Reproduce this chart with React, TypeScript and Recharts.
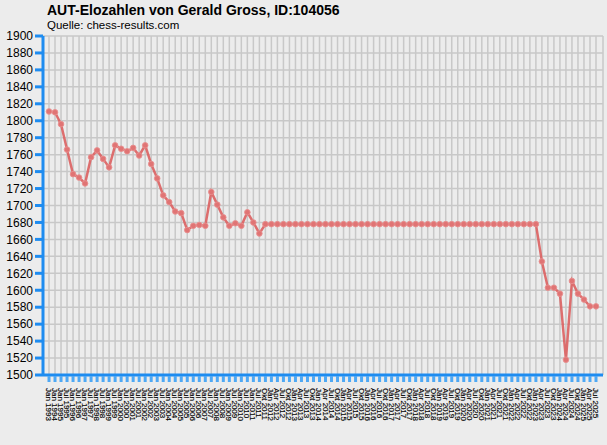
import React from "react";
import { CartesianGrid, Line, LineChart, XAxis, YAxis } from "recharts";

const LABELS = [
  "Jan 1993", "Jan 1994",
  "Jan 1995", "Jul 1995", "Jan 1996", "Jul 1996", "Jan 1997", "Jul 1997", "Jan 1998", "Jul 1998",
  "Jan 1999", "Jul 1999", "Jan 2000", "Jul 2000", "Jan 2001", "Jul 2001", "Jan 2002", "Jul 2002",
  "Jan 2003", "Jul 2003", "Jan 2004", "Jul 2004", "Jan 2005", "Jul 2005", "Jan 2006", "Jul 2006",
  "Jan 2007", "Jul 2007", "Jan 2008", "Jul 2008", "Jan 2009", "Jul 2009", "Jan 2010", "Jul 2010",
  "Jan 2011",
  "Jul 2011", "Okt 2011", "Jan 2012", "Apr 2012", "Jul 2012", "Okt 2012", "Jan 2013", "Apr 2013",
  "Jul 2013", "Okt 2013", "Jan 2014", "Apr 2014", "Jul 2014", "Okt 2014", "Jan 2015", "Apr 2015",
  "Jul 2015", "Okt 2015", "Jan 2016", "Apr 2016", "Jul 2016", "Okt 2016", "Jan 2017", "Apr 2017",
  "Jul 2017", "Okt 2017", "Jan 2018", "Apr 2018", "Jul 2018", "Okt 2018", "Jan 2019", "Apr 2019",
  "Jul 2019", "Okt 2019", "Jan 2020", "Apr 2020", "Jul 2020", "Okt 2020", "Jan 2021", "Apr 2021",
  "Jul 2021", "Okt 2021", "Jan 2022", "Apr 2022", "Jul 2022", "Okt 2022", "Jan 2023", "Apr 2023",
  "Jul 2023", "Okt 2023", "Jan 2024", "Apr 2024", "Jul 2024", "Okt 2024", "Jan 2025", "Apr 2025",
  "Jul 2025",
];

const ELO = [
  1811, 1810, 1796, 1766, 1737, 1733, 1726, 1757, 1765, 1755,
  1745, 1771, 1767, 1764, 1768, 1759, 1771, 1749, 1732, 1712,
  1704, 1693, 1691, 1671, 1676, 1677, 1676, 1716, 1701, 1686,
  1676, 1679, 1676, 1692, 1680, 1667,
  1678, 1678, 1678, 1678, 1678, 1678, 1678, 1678, 1678, 1678,
  1678, 1678, 1678, 1678, 1678, 1678, 1678, 1678, 1678, 1678,
  1678, 1678, 1678, 1678, 1678, 1678, 1678, 1678, 1678, 1678,
  1678, 1678, 1678, 1678, 1678, 1678, 1678, 1678, 1678, 1678,
  1678, 1678, 1678, 1678, 1678, 1678,
  1634, 1603, 1603, 1596, 1518, 1611, 1596, 1589, 1581, 1581,
];

const Y_TICKS = [
  1500, 1520, 1540, 1560, 1580, 1600, 1620, 1640, 1660, 1680, 1700,
  1720, 1740, 1760, 1780, 1800, 1820, 1840, 1860, 1880, 1900,
];

const data = LABELS.map((label, i) => ({ label, elo: ELO[i] }));

const FONT = "'Liberation Sans', Arial, sans-serif";
const BLUE = "#1e8cf0";

function XTick({ x, y, payload }: any) {
  return (
    <g transform={`translate(${x},${y})`}>
      <line x1={0} y1={-7} x2={0} y2={-1} stroke="#4ea8f4" strokeWidth={3} />
      <text
        transform="rotate(90)"
        x={5}
        y={3}
        fontSize={8}
        fontFamily={FONT}
        fill="#000"
        stroke="#000"
        strokeWidth={0.15}
        textAnchor="start"
      >
        {payload.value}
      </text>
    </g>
  );
}

export default function App() {
  document.body.style.margin = "0";
  return (
    <div
      style={{
        position: "relative",
        width: 607,
        height: 445,
        background: "#ececec",
        fontFamily: FONT,
      }}
    >
      <div style={{ position: "absolute", left: 47, top: 2, fontSize: 14, fontWeight: "bold" }}>
        AUT-Elozahlen von Gerald Gross, ID:104056
      </div>
      <div style={{ position: "absolute", left: 47, top: 19, fontSize: 11.5 }}>
        Quelle: chess-results.com
      </div>
      <LineChart
        width={607}
        height={445}
        data={data}
        margin={{ top: 36, right: 4, bottom: 0, left: 0 }}
      >
        <CartesianGrid stroke="#c8c8c8" strokeWidth={1.5} />
        <XAxis
          dataKey="label"
          interval={0}
          height={70}
          padding={{ left: 6, right: 7 }}
          axisLine={{ stroke: BLUE, strokeWidth: 3 }}
          tickLine={false}
          tick={<XTick />}
        />
        <YAxis
          domain={[1500, 1900]}
          ticks={Y_TICKS}
          interval={0}
          width={43}
          axisLine={{ stroke: BLUE, strokeWidth: 3 }}
          tickLine={{ stroke: BLUE, strokeWidth: 3 }}
          tickSize={8}
          tick={{ fontSize: 12, fill: "#000", fontFamily: FONT }}
        />
        <Line
          type="linear"
          dataKey="elo"
          stroke="#dc6060"
          strokeOpacity={0.9}
          strokeWidth={2.5}
          dot={{ r: 2.8, fill: "#e07474", stroke: "#e89090", strokeWidth: 1 }}
          isAnimationActive={false}
        />
      </LineChart>
    </div>
  );
}
